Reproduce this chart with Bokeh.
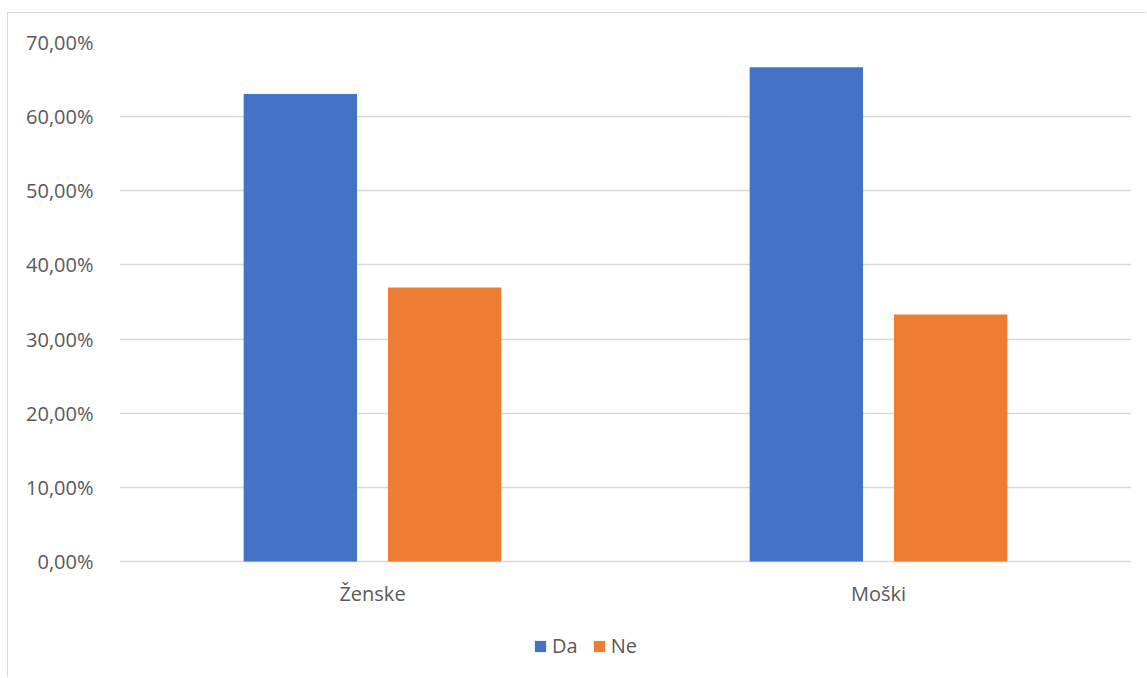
from bokeh.plotting import figure
from bokeh.models import (FactorRange, ColumnDataSource, Legend, LegendItem,
                          CustomJSTickFormatter, FixedTicker)
from bokeh.core.properties import value
from bokeh.transform import dodge
from bokeh.embed import file_html
from bokeh.resources import INLINE

# Survey answers by gender, share of respondents (%)
groups = ["Ženske", "Moški"]
da = [63.04, 66.67]
ne = [36.96, 33.33]
y_ticks = [0, 10, 20, 30, 40, 50, 60, 70]

BLUE = "#4472C4"
ORANGE = "#ED7D31"
TEXT = "#595959"
GRID = "#D9D9D9"
FONT = "Open Sans"
FONT_SIZE = "20px"

src = ColumnDataSource(data=dict(groups=groups, da=da, ne=ne))

# the frame reaches below zero so category labels and legend live inside it
p = figure(
    x_range=FactorRange(*groups, range_padding=0),
    y_range=(-15.5, 70),
    width=1139, height=665,
    output_backend="svg", toolbar_location=None,
    min_border_left=111, min_border_top=29,
    min_border_right=16, min_border_bottom=2,
    margin=(12, 0, 0, 7),
    styles={"border-left": "1px solid #D9D9D9", "border-top": "1px solid #D9D9D9"},
)

bar_w = 0.224
offset = 0.1426
r_da = p.vbar(x=dodge("groups", -offset, range=p.x_range), top="da", width=bar_w,
              source=src, fill_color=BLUE, line_color=None)
r_ne = p.vbar(x=dodge("groups", offset, range=p.x_range), top="ne", width=bar_w,
              source=src, fill_color=ORANGE, line_color=None)

# category labels under the baseline
p.text(x="groups", y=-4.3, text="groups", source=src,
       text_align="center", text_baseline="middle",
       text_font=value(FONT), text_font_size=value(FONT_SIZE), text_color=TEXT)

p.outline_line_color = None
p.background_fill_color = "white"
p.border_fill_color = "white"

# y axis: percent labels with comma decimal separator
p.yaxis.ticker = FixedTicker(ticks=y_ticks)
p.yaxis.formatter = CustomJSTickFormatter(code="return tick.toFixed(2).replace('.', ',') + '%';")
p.yaxis.axis_line_color = None
p.yaxis.major_tick_line_color = None
p.yaxis.minor_tick_line_color = None
p.yaxis.major_label_standoff = 20
p.yaxis.major_label_text_font = FONT
p.yaxis.major_label_text_font_size = FONT_SIZE
p.yaxis.major_label_text_color = TEXT

p.xaxis.visible = False

p.xgrid.grid_line_color = None
p.ygrid.grid_line_color = GRID
p.ygrid.grid_line_width = 1.5

legend = Legend(
    items=[LegendItem(label="Da", renderers=[r_da]),
           LegendItem(label="Ne", renderers=[r_ne])],
    orientation="horizontal", location=(414, 17),
    label_text_font=FONT, label_text_font_size=FONT_SIZE, label_text_color=TEXT,
    glyph_width=14, glyph_height=14, label_standoff=5, spacing=14,
    padding=0, margin=0, border_line_color=None, background_fill_alpha=0,
)
p.add_layout(legend)

open("out.html", "w").write(file_html(p, INLINE))
